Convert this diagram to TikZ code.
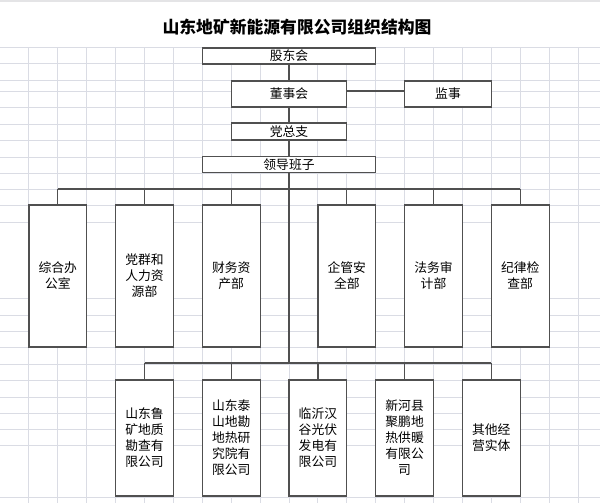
\documentclass[tikz,border=0pt]{standalone}
\usepackage{fontspec}
\setmainfont{Noto Sans CJK SC}
\definecolor{gridgray}{RGB}{218,220,228}
\definecolor{bandgray}{RGB}{228,228,230}
\definecolor{boxgray}{RGB}{80,80,80}
\begin{document}
\begin{tikzpicture}[
		x=0.75pt, y=-0.75pt,
		gridline/.style={draw=gridgray,line width=0.75pt},
		link/.style={draw=boxgray,line width=0.9pt},
		unitbox/.style={draw=boxgray,fill=white,line width=0.9pt,inner sep=0pt,
			align=center,font=\fontsize{9.6}{12}\selectfont},
		widebox/.style={unitbox,minimum width=130.05pt,minimum height=12pt},
		midbox/.style={unitbox,minimum width=86.7pt},
		deptbox/.style={unitbox,minimum width=43.35pt,minimum height=106.5pt},
		firmbox/.style={unitbox,minimum width=43.35pt,minimum height=87pt},
	]
	\useasboundingbox (0,0) rectangle (600,503);

	% ---------- sheet background ----------
	\fill[bandgray] (0,0) rectangle (600,2);
	\foreach \gx in {1,...,20}
		\draw[gridline] (28.9*\gx,48) -- (28.9*\gx,503);
	\foreach \gy in {48,64,81,92,108,125,140,157,173,189,205,222,298,315,331,347,364,380,397,413,429,445,497}
		\draw[gridline] (0,\gy) -- (600,\gy);

	% ---------- title ----------
	\node[font=\fontsize{12.6}{14}\selectfont\bfseries] (title) at (297,27)
		{山东地矿新能源有限公司组织结构图};

	% ---------- top of the chart ----------
	\node[widebox] (gudong) at (289,56) {股东会};
	\node[midbox,minimum height=19.5pt] (dongshi) at (289,94) {董事会};
	\node[unitbox,minimum width=65.03pt,minimum height=19.5pt] (jianshi) at (448,94) {监事};
	\node[midbox,minimum height=12.75pt] (dangzong) at (289,131.5) {党总支};
	\node[widebox] (lingdao) at (289,164.5) {领导班子};
	\coordinate (jsline) at (0,91);
	\coordinate (busU) at (0,189);
	\coordinate (busL) at (0,363);

	\draw[link] (gudong) -- (dongshi);
	\draw[link] (dongshi.east |- jsline) -- (jianshi.west |- jsline);
	\draw[link] (dongshi) -- (dangzong);
	\draw[link] (dangzong) -- (lingdao);
	\draw[link] (lingdao.south) -- (lingdao.south |- busL);

	% ---------- departments ----------
	\node[deptbox] (zonghe) at (57.8,276) {综合办\\公室};
	\node[deptbox] (dangqun) at (144.5,276) {党群和\\人力资\\源部};
	\node[deptbox] (caiwu) at (231.2,276) {财务资\\产部};
	\node[deptbox] (qiguan) at (346.8,276) {企管安\\全部};
	\node[deptbox] (fawu) at (433.5,276) {法务审\\计部};
	\node[deptbox] (jilv) at (520.2,276) {纪律检\\查部};

	\draw[link] (zonghe.north |- busU) -- (jilv.north |- busU);
	\foreach \dept in {zonghe,dangqun,caiwu,qiguan,fawu,jilv}
		\draw[link] (\dept.north) -- (\dept.north |- busU);

	% ---------- companies ----------
	\node[firmbox] (lukuang) at (144.5,438) {山东鲁\\矿地质\\勘查有\\限公司};
	\node[firmbox] (taishan) at (231.2,438) {山东泰\\山地勘\\地热研\\究院有\\限公司};
	\node[firmbox] (linyi) at (317.9,438) {临沂汉\\谷光伏\\发电有\\限公司};
	\node[firmbox] (xinhe) at (404.6,438) {新河县\\聚鹏地\\热供暖\\有限公\\司};
	\node[firmbox] (qita) at (491.3,438) {其他经\\营实体};

	\draw[link] (lukuang.north |- busL) -- (qita.north |- busL);
	\foreach \firm in {lukuang,taishan,linyi,xinhe,qita}
		\draw[link] (\firm.north) -- (\firm.north |- busL);

\end{tikzpicture}
\end{document}
